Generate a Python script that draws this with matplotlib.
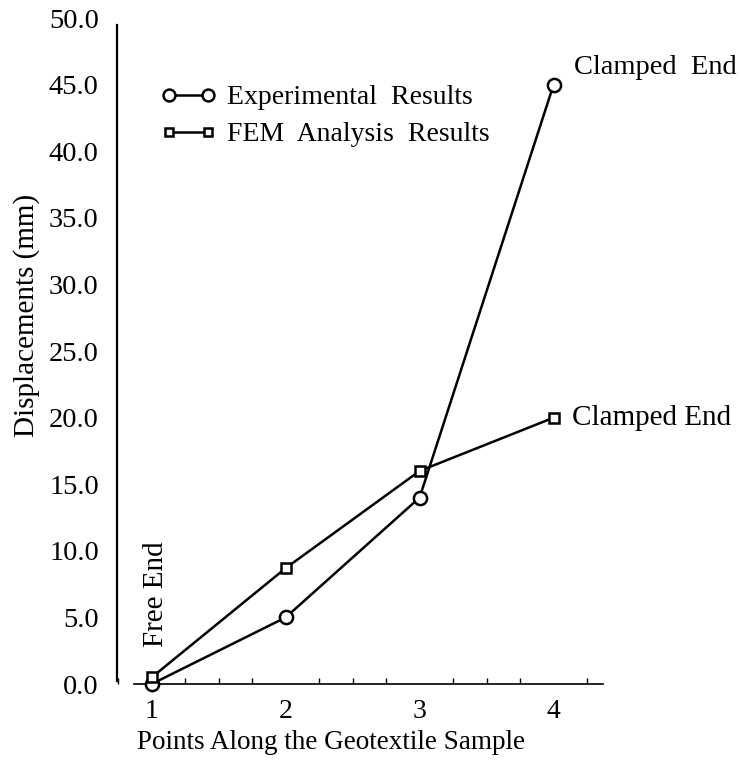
import matplotlib
matplotlib.use("Agg")
import matplotlib.pyplot as plt
from matplotlib.ticker import MultipleLocator

points = [1, 2, 3, 4]
experimental = [0.0, 5.0, 14.0, 45.0]
fem = [0.5, 8.7, 16.0, 20.0]
yticks = [0, 5, 10, 15, 20, 25, 30, 35, 40, 45, 50]

plt.rcParams['font.family'] = ['Liberation Serif', 'DejaVu Serif']

fig = plt.figure(figsize=(7.4, 7.6), dpi=100)
ax = fig.add_axes([0.158, 0.1, 0.657, 0.876])

ax.plot(points, experimental, color='black', lw=1.8, marker='o', ms=9.5,
        mfc='white', mec='black', mew=1.8, clip_on=False, zorder=3,
        label='Experimental  Results')
ax.plot(points, fem, color='black', lw=1.8, marker='s', ms=7,
        mfc='white', mec='black', mew=1.8, clip_on=False, zorder=3,
        label='FEM  Analysis  Results')

ax.set_xlim(0.74, 4.37)
ax.set_ylim(0, 50)
ax.spines['top'].set_visible(False)
ax.spines['right'].set_visible(False)
ax.spines['left'].set_bounds(0.2, 49.5)
ax.spines['bottom'].set_bounds(0.87, 4.37)
ax.spines['left'].set_linewidth(1.6)
ax.spines['bottom'].set_linewidth(1.2)

ax.set_xticks(points)
ax.set_xticklabels([str(p) for p in points])
ax.xaxis.set_minor_locator(MultipleLocator(0.25))
ax.tick_params(axis='x', which='major', direction='in', length=0, pad=11, labelsize=20)
ax.tick_params(axis='x', which='minor', direction='in', length=4, width=1)
ax.set_yticks(yticks)
ax.set_yticklabels([f"{v:.1f}" for v in yticks])
ax.tick_params(axis='y', length=0, pad=13, labelsize=20.5)

ax.set_xlabel('Points Along the Geotextile Sample', fontsize=19.5)
ax.xaxis.set_label_coords(0.44, -0.069)
ax.set_ylabel('Displacements (mm)', fontsize=21)
ax.yaxis.set_label_coords(-0.158, 0.554)

ax.text(4.149, 46.3, 'Clamped  End', fontsize=20.5, ha='left', va='center')
ax.text(4.14, 20.0, 'Clamped End', fontsize=21, ha='left', va='center')
ax.text(1.03, 2.8, 'Free End', fontsize=21, rotation=90, ha='center', va='bottom')

ax.legend(loc='center left', bbox_to_anchor=(0.09, 0.853), frameon=False,
          fontsize=20, numpoints=2, handlelength=2.0, handletextpad=0.38,
          labelspacing=0.42, borderpad=0, borderaxespad=0, markerscale=0.9)

fig.savefig('out.png', dpi=100)
